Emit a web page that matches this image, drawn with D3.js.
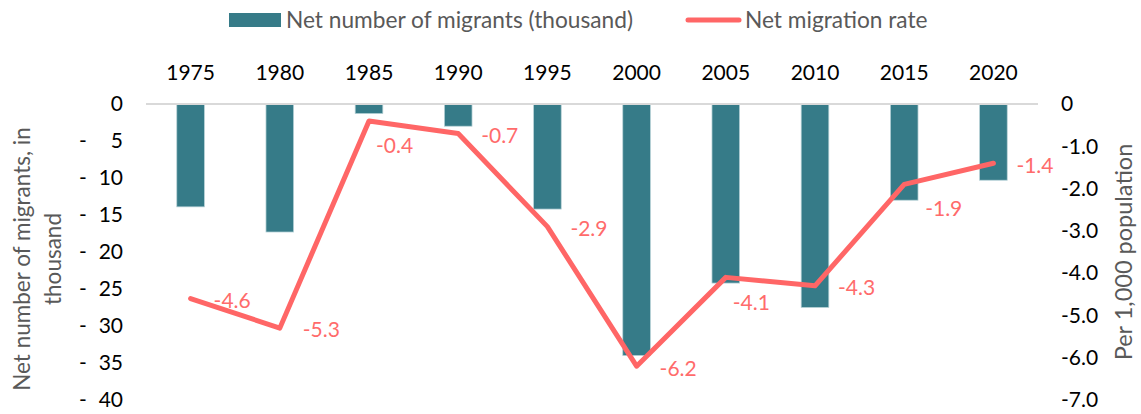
<!DOCTYPE html>
<html>
<head>
<meta charset="utf-8">
<script src="https://cdn.jsdelivr.net/npm/d3@7"></script>
<style>
  html, body { margin: 0; padding: 0; background: #fff; }
  svg { display: block; font-family: Lato, "Open Sans", sans-serif; }
</style>
</head>
<body>
<svg id="chart" width="1141" height="414"></svg>
<script>
// ---- data ----
const years = ["1975","1980","1985","1990","1995","2000","2005","2010","2015","2020"];
const netMigrants = [-13.9, -17.3, -1.3, -3.0, -14.2, -34.0, -24.2, -27.5, -13.0, -10.3];
const netRate = [-4.6, -5.3, -0.4, -0.7, -2.9, -6.2, -4.1, -4.3, -1.9, -1.4];
const leftTicks = [0, -5, -10, -15, -20, -25, -30, -35, -40];
const rightTicks = [0, -1, -2, -3, -4, -5, -6, -7];
const labelPlacement = ["right","right","below","right","right","right","below","right","belowRight","right"];
const seriesNames = ["Net number of migrants (thousand)", "Net migration rate"];
const leftTitle = ["Net number of migrants, in", "thousand"];
const rightTitle = "Per 1,000 population";

// ---- style ----
const barColor = "#367B88";
const lineColor = "#FF6666";
const labelColor = "#FF6B6B";
const greyText = "#595959";

const svg = d3.select("#chart");
const plot = { left: 146, right: 1038, top: 104, bottom: 400 };

const x = d3.scaleBand().domain(years).range([plot.left, plot.right])
  .paddingInner(0.69).paddingOuter(0.345);
const yL = d3.scaleLinear().domain([0, -40]).range([plot.top, plot.bottom]);
const yR = d3.scaleLinear().domain([0, -7]).range([plot.top, plot.bottom]);
const cx = d => x(d) + x.bandwidth() / 2;

// bars
svg.append("g").selectAll("rect").data(years).join("rect")
  .attr("x", d => x(d))
  .attr("width", x.bandwidth())
  .attr("y", yL(0))
  .attr("height", (d, i) => yL(netMigrants[i]) - yL(0))
  .attr("fill", barColor)
  .attr("stroke", "#b9d3d8")
  .attr("stroke-width", 0.75);

// zero gridline
svg.append("line")
  .attr("x1", plot.left).attr("x2", plot.right)
  .attr("y1", yL(0)).attr("y2", yL(0))
  .attr("stroke", "#D9D9D9").attr("stroke-width", 2);

// top category axis
const xAxis = d3.axisTop(x).tickSize(0).tickPadding(0);
const gx = svg.append("g").attr("transform", "translate(0,73)").call(xAxis);
gx.select(".domain").remove();
gx.selectAll("text").attr("font-size", 21).attr("fill", "#000")
  .attr("font-family", "Lato, sans-serif").attr("dy", "0.35em");

// left axis
const gl = svg.append("g").attr("transform", "translate(123,0)")
  .call(d3.axisLeft(yL).tickValues(leftTicks).tickSize(0).tickPadding(0)
    .tickFormat(d => d === 0 ? "0" : String(Math.abs(d))));
gl.select(".domain").remove();
gl.selectAll("text").attr("font-size", 21).attr("fill", "#000")
  .attr("font-family", "Lato, sans-serif");
gl.selectAll(".tick").filter(d => d !== 0).append("text")
  .attr("x", -40).attr("dy", "0.32em").attr("text-anchor", "middle")
  .attr("font-size", 21).attr("fill", "#000")
  .attr("font-family", "Lato, sans-serif")
  .text("-");

// right axis
const gr = svg.append("g").attr("transform", "translate(1061,0)")
  .call(d3.axisRight(yR).tickValues(rightTicks).tickSize(0).tickPadding(0)
    .tickFormat(d => d === 0 ? "0" : d.toFixed(1)));
gr.select(".domain").remove();
gr.selectAll("text").attr("font-size", 21).attr("fill", "#000")
  .attr("font-family", "Lato, sans-serif");

// line
const line = d3.line().x((d, i) => cx(years[i])).y(d => yR(d));
svg.append("path").datum(netRate)
  .attr("d", line)
  .attr("fill", "none")
  .attr("stroke", lineColor)
  .attr("stroke-width", 5)
  .attr("stroke-linejoin", "round")
  .attr("stroke-linecap", "round");

// data labels
const offsets = { right: [23, 2], below: [7, 25], belowRight: [21, 24] };
svg.append("g").selectAll("text").data(netRate).join("text")
  .attr("x", (d, i) => cx(years[i]) + offsets[labelPlacement[i]][0])
  .attr("y", (d, i) => yR(d) + offsets[labelPlacement[i]][1])
  .attr("dy", "0.35em")
  .attr("font-size", 21)
  .attr("fill", labelColor)
  .text(d => d.toFixed(1));

// axis titles
const lt = svg.append("text")
  .attr("transform", "translate(22,259) rotate(-90)")
  .attr("text-anchor", "middle").attr("font-size", 22.5).attr("fill", greyText);
lt.append("tspan").attr("x", 0).attr("dy", "0.35em").text(leftTitle[0]);
lt.append("tspan").attr("x", 0).attr("dy", "1.37em").text(leftTitle[1]);

svg.append("text")
  .attr("transform", "translate(1124,252) rotate(-90)")
  .attr("text-anchor", "middle").attr("dy", "0.35em")
  .attr("font-size", 23.5).attr("fill", greyText)
  .text(rightTitle);

// legend
const lg = svg.append("g");
lg.append("rect").attr("x", 229).attr("y", 13).attr("width", 52).attr("height", 14)
  .attr("fill", barColor);
lg.append("text").attr("x", 286).attr("y", 20).attr("dy", "0.35em")
  .attr("font-size", 22.7).attr("fill", greyText).text(seriesNames[0]);
lg.append("line").attr("x1", 688).attr("x2", 739).attr("y1", 20).attr("y2", 20)
  .attr("stroke", lineColor).attr("stroke-width", 5).attr("stroke-linecap", "round");
lg.append("text").attr("x", 745).attr("y", 20).attr("dy", "0.35em")
  .attr("font-size", 22.7).attr("fill", greyText).text(seriesNames[1]);
</script>
</body>
</html>
